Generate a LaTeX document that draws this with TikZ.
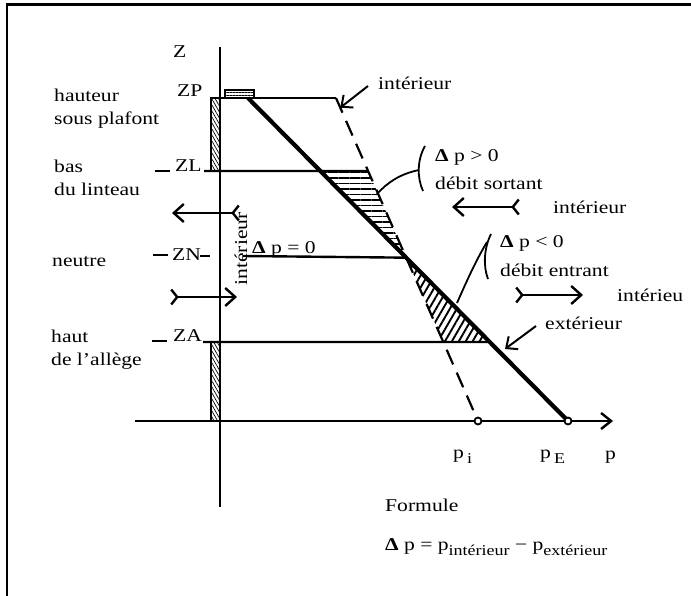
\documentclass[tikz,border=0pt]{standalone}
\usepackage{fontspec}
\setmainfont[FakeStretch=1.2]{Liberation Serif}
\usetikzlibrary{arrows.meta,patterns.meta,calc}
\newcommand{\lowsub}[1]{\raisebox{-5pt}{\fontsize{15}{15}\selectfont #1}}
\begin{document}
\begin{tikzpicture}[x=1pt,y=-1pt,
  txt/.style={font=\fontsize{18}{23}\selectfont, inner sep=0pt, anchor=west, align=left},
  hl/.style={line width=2.4pt},
  axisline/.style={line width=2.4pt},
  flow/.style={line width=2.4pt, {Straight Barb[reversed,length=6pt,width=15pt]}-{Straight Barb[length=10pt,width=18pt]}},
  callout/.style={line width=2pt, -{Straight Barb[length=9pt,width=16pt]}},
  brace/.style={line width=1.8pt},
  wall/.style={line width=1.6pt, pattern={Lines[angle=-60,distance=3pt,line width=0.7pt]}},
  dot/.style={circle, draw, fill=white, line width=1.8pt, minimum size=7pt, inner sep=0pt}
]
\useasboundingbox (0,0) rectangle (691,596);
\draw[line width=2.2pt] (7,596) -- (7,4.5) -- (691,4.5);

% key points
\coordinate (sT) at (248,98);
\coordinate (pE) at (568,421);
\coordinate (dT) at (336,98);
\coordinate (pI) at (478,421);
\coordinate (X) at (intersection of sT--pE and dT--pI);
\coordinate (sL) at ($(sT)!0.226!(pE)$);
\coordinate (dL) at ($(dT)!0.226!(pI)$);
\coordinate (sA) at ($(sT)!0.7554!(pE)$);
\coordinate (dA) at ($(dT)!0.7554!(pI)$);

% hatched pressure regions
\fill[pattern={Lines[angle=0,distance=5.5pt,line width=1.9pt]}] (sL) -- (dL) -- (X) -- cycle;
\fill[pattern={Lines[angle=60,distance=6pt,line width=1.9pt]}] (X) -- (sA) -- (dA) -- cycle;

% walls
\draw[wall] (211,98) rectangle (220,171);
\draw[wall] (211,342) rectangle (220,421);
\draw[line width=1.5pt, pattern={Lines[angle=0,distance=3pt,line width=0.5pt]}] (225,90) rectangle (254,98);

% axes
\coordinate (zTop) at (220,47);
\coordinate (zBot) at (220,507);
\coordinate (pL) at (135,421);
\coordinate (pR) at (613,421);
\draw[axisline] (zTop) -- (zBot);
\draw[axisline, -{Straight Barb[length=10pt,width=16pt]}] (pL) -- (pR);

% level lines
\coordinate (zpL) at (211,98);
\coordinate (zlL) at (204,171);
\coordinate (znL) at (243,256);
\coordinate (zaL) at (203,342);
\draw[hl] (zpL) -- (dT);
\draw[hl] (zlL) -- (dL);
\draw[hl] (znL) -- (X);
\draw[hl] (zaL) -- (sA);

% pressure lines
\draw[line width=4.2pt] (sT) -- (pE);
\draw[line width=2.2pt, dash pattern=on 16pt off 9pt] (dT) -- (pI);
\node[dot] (nPI) at (pI) {};
\node[dot] (nPE) at (pE) {};

% left labels
\node[txt] (Z) at (173,52) {Z};
\node[txt] (ZP) at (177,91) {ZP};
\node[txt] (ZL) at (175,166) {ZL};
\node[txt] (ZN) at (172,255) {ZN};
\node[txt] (ZA) at (173,336) {ZA};
\draw[hl] (155,171) -- (170,171);
\draw[hl] (153,255) -- (168,255);
\draw[hl] (200,256) -- (210,256);
\draw[hl] (152,341) -- (167,341);

\node[txt] (hsp) at (54,109) {hauteur\\sous plafont};
\node[txt] (bdl) at (54,178) {bas\\du linteau};
\node[txt] (neu) at (52,262) {neutre};
\node[txt] (hda) at (51,350) {haut\\de l’allège};

% flows at the opening
\coordinate (f1a) at (240,213); \coordinate (f1b) at (172,213);
\coordinate (f2a) at (170,297); \coordinate (f2b) at (237,297);
\draw[flow] (f1a) -- (f1b);
\draw[flow] (f2a) -- (f2b);
\node[txt, rotate=90, anchor=center] (intv) at (241,249) {intérieur};
\node[txt] (dp0) at (252,249) {\textbf{Δ} p = 0};

% top label
\node[txt] (iTop) at (378,83) {intérieur};
\coordinate (c1) at (368,86);
\coordinate (c1t) at ($(dT)!0.03!(pI)$);
\draw[callout] (c1) -- (c1t);

% upper annotation
\node[txt] (dpg) at (435,157) {\textbf{Δ} p > 0};
\node[txt] (dso) at (435,183) {débit sortant};
\coordinate (b1a) at (425,146); \coordinate (b1b) at (423,191);
\draw[brace] (b1a) .. controls (417,160) and (417,178) .. (b1b);
\coordinate (b1m) at (419,170); \coordinate (b1e) at (377,194);
\draw[brace] (b1m) .. controls (400,174) and (388,182) .. (b1e);
\coordinate (f3a) at (520,207); \coordinate (f3b) at (452,207);
\draw[flow] (f3a) -- (f3b);
\node[txt] (i3) at (553,207) {intérieur};

% lower annotation
\node[txt] (dpl) at (500,243) {\textbf{Δ} p < 0};
\node[txt] (den) at (500,270) {débit entrant};
\coordinate (b2a) at (491,234); \coordinate (b2b) at (488,279);
\draw[brace] (b2a) .. controls (484,248) and (483,266) .. (b2b);
\coordinate (b2m) at (487,242); \coordinate (b2e) at (457,303);
\draw[brace] (b2m) .. controls (475,262) and (465,285) .. (b2e);
\coordinate (f4a) at (515,295); \coordinate (f4b) at (583,295);
\draw[flow] (f4a) -- (f4b);
\node[txt] (i4) at (617,295) {intérieu};
\node[txt] (ext) at (545,323) {extérieur};
\coordinate (c2) at (536,326); \coordinate (c2t) at (505,349);
\draw[callout] (c2) -- (c2t);

% axis labels
\node[txt] (lpi) at (453,457) {p\,\lowsub{i}};
\node[txt] (lpe) at (540,457) {p\,\lowsub{E}};
\node[txt] (lp) at (605,457) {p};

% formula
\node[txt] (form) at (385,505) {Formule};
\node[txt] (eq) at (385,547) {\textbf{Δ} p = p\lowsub{intérieur} − p\lowsub{extérieur}};
\end{tikzpicture}
\end{document}
